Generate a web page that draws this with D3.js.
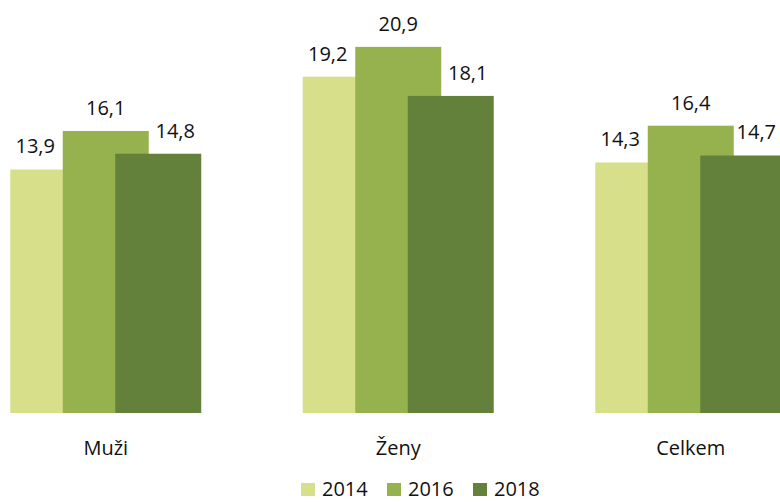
<!DOCTYPE html>
<html>
<head>
<meta charset="utf-8">
<script src="https://cdn.jsdelivr.net/npm/d3@7"></script>
<style>
  html, body { margin: 0; padding: 0; background: #fff; }
  svg { display: block; font-family: "Open Sans", "Noto Sans", sans-serif; }
</style>
</head>
<body>
<svg id="chart" width="780" height="502"></svg>
<script>
// Groups, series and values
const categories = ["Muži", "Ženy", "Celkem"];
const years = ["2014", "2016", "2018"];
const values2014 = [13.9, 19.2, 14.3];
const values2016 = [16.1, 20.9, 16.4];
const values2018 = [14.8, 18.1, 14.7];
const seriesValues = [values2014, values2016, values2018];

const colors = ["#d8df8b", "#95b24e", "#64813b"];
const labelShift = [-18, 0, 17];   // nudges value labels apart over overlapping bars

const W = 780, H = 502;
const svg = d3.select("#chart");

// Group bands run slightly past the canvas so the last group is cut at the edge
const x0 = d3.scaleBand().domain(categories).range([-40.5, 837]).padding(0);
const xs = d3.scalePoint().domain(years).range([-52.5, 52.5]);
const barW = 86;
const y = d3.scaleLinear().domain([0, 22]).range([413, 27.6]);

const fmt = v => d3.format(".1f")(v).replace(".", ",");

const rows = [];
years.forEach((yr, si) => {
  categories.forEach((cat, ci) => {
    rows.push({ yr, si, cat, v: seriesValues[si][ci] });
  });
});

// Bars (drawn series by series so later years sit on top)
svg.append("g").selectAll("rect")
  .data(rows)
  .join("rect")
  .attr("x", d => x0(d.cat) + x0.bandwidth() / 2 + xs(d.yr) - barW / 2)
  .attr("y", d => y(d.v))
  .attr("width", barW)
  .attr("height", d => y(0) - y(d.v))
  .attr("fill", d => colors[d.si]);

// Value labels
svg.append("g").selectAll("text")
  .data(rows)
  .join("text")
  .attr("text-anchor", "middle")
  .attr("font-size", 20)
  .attr("fill", "#111")
  .attr("x", d => x0(d.cat) + x0.bandwidth() / 2 + xs(d.yr) + labelShift[d.si])
  .attr("y", d => y(d.v) - 16)
  .text(d => fmt(d.v))
  .each(function () {
    const t = d3.select(this);
    const w = this.getComputedTextLength();
    const cx = +t.attr("x");
    if (cx + w / 2 > W - 4) t.attr("x", W - 4 - w / 2);
  });

// Category axis labels
const xAxis = d3.axisBottom(x0).tickSize(0).tickPadding(0);
const ax = svg.append("g")
  .attr("transform", `translate(0, ${y(0)})`)
  .call(xAxis);
ax.select(".domain").remove();
ax.selectAll("text")
  .attr("font-family", "Open Sans, Noto Sans, sans-serif")
  .attr("font-size", 20)
  .attr("fill", "#111")
  .attr("dy", null)
  .attr("y", 42);

// Legend
const legendStep = 86;
const legend = svg.append("g").attr("transform", "translate(301, 0)");
const li = legend.selectAll("g")
  .data(years)
  .join("g")
  .attr("transform", (d, i) => `translate(${i * legendStep}, 0)`);
li.append("rect")
  .attr("x", 0).attr("y", 483)
  .attr("width", 14).attr("height", 13)
  .attr("fill", (d, i) => colors[i]);
li.append("text")
  .attr("x", 21).attr("y", 496)
  .attr("font-size", 20)
  .attr("fill", "#111")
  .text(d => d);
</script>
</body>
</html>
